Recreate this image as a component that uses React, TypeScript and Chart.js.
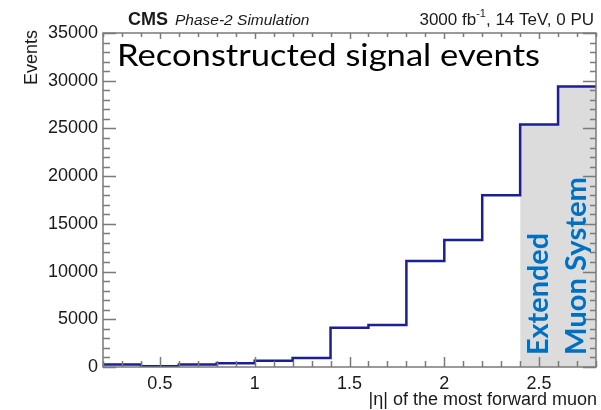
import React, { useEffect, useRef } from "react";
import { Chart, registerables } from "chart.js";

Chart.register(...registerables);

// ---- data ----
const BIN_EDGES = [0.2, 0.4, 0.6, 0.8, 1.0, 1.2, 1.4, 1.6, 1.8, 2.0, 2.2, 2.4, 2.6, 2.8];
const EVENTS = [250, 80, 250, 380, 650, 950, 4100, 4400, 11100, 13300, 18000, 25400, 29400];
const X_TICKS = [0.5, 1, 1.5, 2, 2.5];
const Y_TICKS = [0, 5000, 10000, 15000, 20000, 25000, 30000, 35000];
const SHADE_FROM = 2.4;
const X_TITLE = "|η| of the most forward muon";
const Y_TITLE = "Events";
const OVERLAY_TITLE = "Reconstructed signal events";
const REGION_LABEL = ["Extended", "Muon System"];

const histPoints = (from: number) => {
  const pts: { x: number; y: number }[] = [];
  for (let i = 0; i < EVENTS.length; i++) {
    if (BIN_EDGES[i] < from - 1e-9) continue;
    pts.push({ x: BIN_EDGES[i], y: EVENTS[i] });
    pts.push({ x: BIN_EDGES[i + 1], y: EVENTS[i] });
  }
  return pts;
};

const SANS = "'Liberation Sans', Arial, sans-serif";
const CAL = "Lato, 'Open Sans', sans-serif";

function fitText(ctx: CanvasRenderingContext2D, text: string, x: number, y: number, width: number) {
  const w = ctx.measureText(text).width;
  ctx.save();
  ctx.translate(x, y);
  ctx.scale(width / w, 1);
  ctx.fillText(text, 0, 0);
  ctx.restore();
}

const rootFrame = {
  id: "rootFrame",
  afterDatasetsDraw(chart: any) {
    const { ctx, chartArea: a, scales } = chart;
    const x = scales.x;
    const y = scales.y;
    ctx.save();
    ctx.strokeStyle = "#7a7a7a";
    ctx.lineWidth = 1.5;
    ctx.strokeRect(a.left, a.top, a.right - a.left, a.bottom - a.top);
    ctx.lineWidth = 1.5;
    ctx.beginPath();
    for (let k = 2; k <= 28; k++) {
      const px = Math.round(x.getPixelForValue(k / 10)) + 0.5;
      const major = k % 5 === 0;
      ctx.moveTo(px, a.bottom);
      ctx.lineTo(px, a.bottom - (major ? 10 : 6));
      ctx.moveTo(px, a.top);
      ctx.lineTo(px, a.top + (major ? 6 : 4));
    }
    for (let k = 0; k <= 35; k++) {
      const py = Math.round(y.getPixelForValue(k * 1000)) + 0.5;
      const major = k % 5 === 0;
      ctx.moveTo(a.left, py);
      ctx.lineTo(a.left + (major ? 13 : 7), py);
      ctx.moveTo(a.right, py);
      ctx.lineTo(a.right - (major ? 13 : 6), py);
    }
    ctx.stroke();
    ctx.restore();
  },
  afterDraw(chart: any) {
    const { ctx, scales } = chart;
    const x = scales.x;
    const y = scales.y;
    ctx.save();
    ctx.fillStyle = "#1a1a1a";
    ctx.textBaseline = "alphabetic";

    // header
    ctx.font = `bold 18px ${SANS}`;
    ctx.textAlign = "left";
    ctx.fillText("CMS", 128, 25);
    const cmsW = ctx.measureText("CMS").width;
    ctx.font = `italic 15.5px ${SANS}`;
    ctx.fillText("Phase-2 Simulation", 128 + cmsW + 7, 25);

    // right header
    const p1 = "3000 fb";
    const p3 = ", 14 TeV, 0 PU";
    ctx.font = `17px ${SANS}`;
    const w1 = ctx.measureText(p1).width;
    const w3 = ctx.measureText(p3).width;
    ctx.font = `11px ${SANS}`;
    const w2 = ctx.measureText("-1").width;
    const right = 594;
    const start = right - w1 - w2 - w3;
    ctx.font = `17px ${SANS}`;
    ctx.fillText(p1, start, 25);
    ctx.font = `11px ${SANS}`;
    ctx.fillText("-1", start + w1, 17);
    ctx.font = `17px ${SANS}`;
    ctx.fillText(p3, start + w1 + w2, 25);

    // y title
    ctx.save();
    ctx.translate(37, 30);
    ctx.rotate(-Math.PI / 2);
    ctx.textAlign = "right";
    ctx.font = `18px ${SANS}`;
    ctx.fillText(Y_TITLE, 0, 0);
    ctx.restore();

    // x title
    ctx.textAlign = "right";
    ctx.font = `18px ${SANS}`;
    ctx.fillText(X_TITLE, 597, 405);

    // overlay title
    ctx.textAlign = "left";
    ctx.fillStyle = "#000";
    ctx.font = `30px ${CAL}`;
    fitText(ctx, OVERLAY_TITLE, 117, 66, 423);

    // region label
    ctx.fillStyle = "#0070c0";
    ctx.font = `bold 28px ${CAL}`;
    const bx = x.getPixelForValue(SHADE_FROM);
    const by = y.getPixelForValue(0) - 12;
    ctx.save();
    ctx.translate(bx + 28, by);
    ctx.rotate(-Math.PI / 2);
    fitText(ctx, REGION_LABEL[0], 0, 0, 122);
    ctx.restore();
    ctx.save();
    ctx.translate(bx + 66, by);
    ctx.rotate(-Math.PI / 2);
    fitText(ctx, REGION_LABEL[1], 0, 0, 178);
    ctx.restore();

    ctx.restore();
  },
};

export default function App() {
  const ref = useRef<HTMLCanvasElement | null>(null);
  useEffect(() => {
    if (!ref.current) return;
    const chart = new Chart(ref.current, {
      type: "line",
      data: {
        datasets: [
          {
            data: histPoints(-1),
            borderColor: "#1b1f96",
            borderWidth: 2.5,
            pointRadius: 0,
            fill: false,
            tension: 0,
          },
          {
            data: histPoints(SHADE_FROM),
            borderWidth: 0,
            borderColor: "rgba(0,0,0,0)",
            backgroundColor: "#dcdcdc",
            pointRadius: 0,
            fill: "origin",
            tension: 0,
          },
        ],
      },
      options: {
        responsive: false,
        animation: false,
        events: [],
        layout: { padding: { top: 33, right: 5, left: 0, bottom: 0 } },
        plugins: { legend: { display: false }, tooltip: { enabled: false }, title: { display: false } },
        scales: {
          x: {
            type: "linear",
            min: 0.2,
            max: 2.8,
            grid: { display: false, drawTicks: false },
            border: { display: false },
            afterBuildTicks: (s: any) => {
              s.ticks = X_TICKS.map((v) => ({ value: v }));
            },
            afterFit: (s: any) => {
              s.height = 43;
            },
            ticks: {
              autoSkip: false,
              maxRotation: 0,
              padding: 6,
              color: "#1a1a1a",
              font: { family: SANS, size: 18 },
              callback: (v: any) => String(v),
            },
          },
          y: {
            type: "linear",
            min: 0,
            max: 35000,
            grid: { display: false, drawTicks: false },
            border: { display: false },
            afterBuildTicks: (s: any) => {
              s.ticks = Y_TICKS.map((v) => ({ value: v }));
            },
            afterFit: (s: any) => {
              s.width = 103;
            },
            ticks: {
              padding: 5,
              color: "#1a1a1a",
              font: { family: SANS, size: 18 },
              callback: (v: any) => String(v),
            },
          },
        },
      },
      plugins: [rootFrame],
    } as any);
    return () => chart.destroy();
  }, []);
  return (
    <div style={{ position: "absolute", left: 0, top: 0, width: 601, height: 410, background: "#fff" }}>
      <canvas ref={ref} width={601} height={410} style={{ display: "block" }} />
    </div>
  );
}
